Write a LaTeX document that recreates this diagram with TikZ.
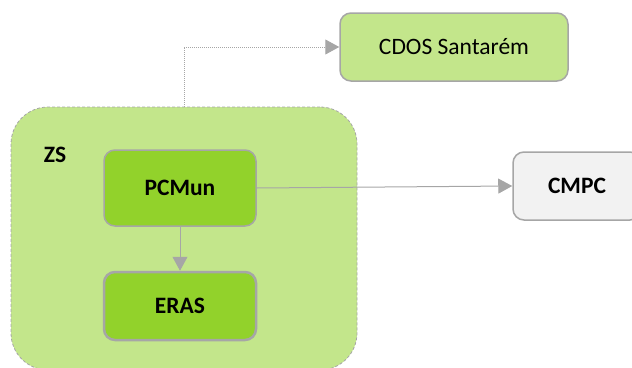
\documentclass[tikz,border=0pt]{standalone}
\usepackage{fontspec}
\setmainfont{Carlito}
\usetikzlibrary{arrows.meta}
\definecolor{zonegreen}{HTML}{C3E68B}
\definecolor{unitgreen}{HTML}{92D22B}
\definecolor{boxgray}{HTML}{F2F2F2}
\definecolor{linegray}{HTML}{A6A6A6}
\begin{document}
\begin{tikzpicture}[x=1pt, y=-1pt,
    box/.style={draw=linegray, line width=1.5pt, rounded corners=11pt,
      font=\fontsize{23.5}{28}\selectfont\bfseries, inner sep=0pt},
    unit/.style={box, fill=unitgreen, minimum width=152pt},
    link/.style={draw=linegray, line width=1pt,
      -{Triangle[length=14pt, width=15pt]}}]
  \useasboundingbox (0,0) rectangle (632,367);

  % Zone container (ZS)
  \node[draw=linegray, densely dashed, line width=0.8pt, fill=zonegreen,
    rounded corners=37pt, minimum width=346pt, minimum height=263pt]
    (zs) at (184,238.5) {};
  \node[font=\fontsize{23.5}{28}\selectfont\bfseries] (zslabel) at (55,155) {ZS};

  % Inner units
  \node[unit, minimum height=76pt] (pcmun) at (180,188) {PCMun};
  \node[unit, minimum height=68pt, line width=2.5pt] (eras) at (180,306) {ERAS};

  % Outside boxes
  \node[box, fill=zonegreen, font=\fontsize{23.5}{28}\selectfont,
    minimum width=228pt, minimum height=68pt] (cdos) at (454,47) {CDOS Santarém};
  \node[box, fill=boxgray, minimum width=128pt, minimum height=68pt]
    (cmpc) at (577,186) {CMPC};

  % Connectors
  \draw[link, densely dotted] (zs.north) |- (cdos.west);
  \draw[link] (pcmun.east) -- (cmpc.west);
  \draw[link] (pcmun.south) -- (eras.north);
\end{tikzpicture}
\end{document}
